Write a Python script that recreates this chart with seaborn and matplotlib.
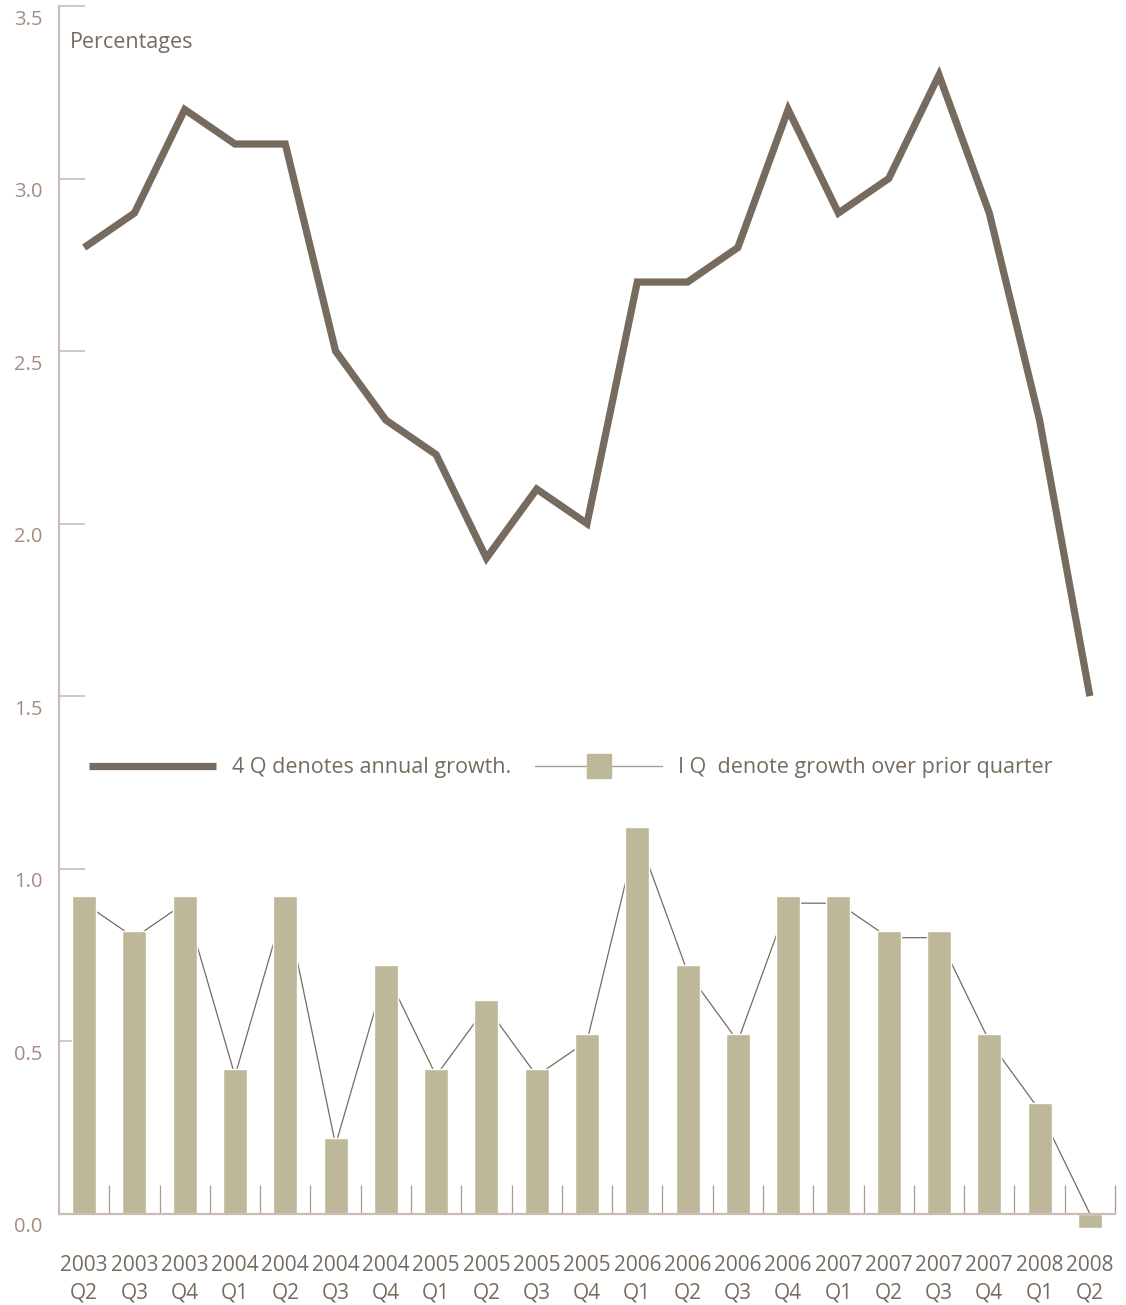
import numpy as np
import pandas as pd
import matplotlib
matplotlib.use("Agg")
import matplotlib.pyplot as plt
import matplotlib.transforms as mtransforms
from matplotlib.lines import Line2D
import seaborn as sns

# Quarter labels
years = ["2003", "2003", "2003", "2004", "2004", "2004", "2004",
         "2005", "2005", "2005", "2005", "2006", "2006", "2006", "2006",
         "2007", "2007", "2007", "2007", "2008", "2008"]
quarters = ["Q2", "Q3", "Q4", "Q1", "Q2", "Q3", "Q4",
            "Q1", "Q2", "Q3", "Q4", "Q1", "Q2", "Q3", "Q4",
            "Q1", "Q2", "Q3", "Q4", "Q1", "Q2"]

# 4Q growth (annual), percent
annual_growth = [2.8, 2.9, 3.2, 3.1, 3.1, 2.5, 2.3, 2.2, 1.9, 2.1, 2.0,
                 2.7, 2.7, 2.8, 3.2, 2.9, 3.0, 3.3, 2.9, 2.3, 1.5]
# 1Q growth (over prior quarter), percent - connecting line
quarterly_growth = [0.9, 0.8, 0.9, 0.4, 0.9, 0.2, 0.7, 0.4, 0.6, 0.4, 0.5,
                    1.1, 0.7, 0.5, 0.9, 0.9, 0.8, 0.8, 0.5, 0.3, 0.0]
# 1Q growth - bar heights
quarterly_bars = [0.92, 0.82, 0.92, 0.42, 0.92, 0.22, 0.72, 0.42, 0.62, 0.42, 0.52,
                  1.12, 0.72, 0.52, 0.92, 0.92, 0.82, 0.82, 0.52, 0.32, -0.04]

legend_labels = ["4 Q denotes annual growth.", "I Q  denote growth over prior quarter"]

sns.set_theme(style="white")
plt.rcParams["font.family"] = ["Open Sans", "DejaVu Sans"]

DARK = "#766b5e"
BAR = "#bdb899"
AXIS = "#cbbcb5"
TICK = "#ab9a92"
YLAB = "#a58c82"
THIN = "#a9a29a"

labels = [f"{y}\n{q}" for y, q in zip(years, quarters)]
df = pd.DataFrame({
    "period": labels,
    "pos": np.arange(len(labels)),
    "annual": annual_growth,
    "qoq": quarterly_growth,
    "bar": quarterly_bars,
})

W, H = 1126, 1305
fig = plt.figure(figsize=(W / 100, H / 100), dpi=100)
ax = fig.add_axes([59 / W, 74 / H, (1115 - 59) / W, (1299 - 74) / H])

sns.barplot(data=df, x="period", y="bar", order=labels, ax=ax, color=BAR,
            width=0.48, saturation=1, errorbar=None, zorder=2)
sns.lineplot(data=df, x="pos", y="qoq", ax=ax, color=DARK, lw=0.9, zorder=1)
sns.lineplot(data=df, x="pos", y="annual", ax=ax, color=DARK, lw=5.2, zorder=3,
             solid_joinstyle="miter", solid_capstyle="butt")

ax.set_xlim(-0.5, 20.5)
ax.set_ylim(-0.05, 3.5)
ax.set_xlabel("")
ax.set_ylabel("")

for side in ("top", "right"):
    ax.spines[side].set_visible(False)
ax.spines["left"].set_color(AXIS)
ax.spines["left"].set_linewidth(1.6)
ax.spines["left"].set_bounds(0, 3.5)
ax.spines["bottom"].set_position(("data", 0))
ax.spines["bottom"].set_color(AXIS)
ax.spines["bottom"].set_linewidth(1.6)

# y axis
yt = np.arange(0, 3.51, 0.5)
ax.set_yticks(yt)
ax.set_yticklabels([f"{v:.1f}" for v in yt])
ax.tick_params(axis="y", direction="in", length=19, width=1.2, color=AXIS,
               pad=12, labelsize=14.5, labelcolor=YLAB, left=True)

# x axis
ax.set_xticks(np.arange(len(labels)))
ax.set_xticklabels(labels, linespacing=1.35)
ax.set_xticks(np.arange(0.5, len(labels), 1), minor=True)
ax.tick_params(axis="x", which="major", length=0, pad=30, labelsize=15,
               labelcolor=DARK, bottom=True)
ax.tick_params(axis="x", which="minor", direction="in", length=21, width=0.9,
               color=TICK, bottom=True)

offset = mtransforms.ScaledTranslation(0, -8 / 72, fig.dpi_scale_trans)
for lab in ax.get_yticklabels():
    lab.set_transform(lab.get_transform() + offset)

fig.text(70 / W, 1 - 48 / H, "Percentages", fontsize=15.5, color=DARK, va="baseline")

handles = [
    Line2D([], [], color=DARK, lw=5.2, solid_capstyle="butt"),
    Line2D([], [], color=THIN, lw=1.0, marker="s", markersize=17,
           markerfacecolor=BAR, markeredgecolor=BAR),
]
ax.legend(handles, legend_labels, ncol=2, frameon=False, loc="center left",
          bbox_to_anchor=(89 / W, 1 - 768 / H), bbox_transform=fig.transFigure,
          fontsize=15.5, labelcolor=DARK, handlelength=5.9, handletextpad=0.75,
          columnspacing=1.1, borderpad=0, borderaxespad=0)

fig.savefig("out.png", dpi=100)
